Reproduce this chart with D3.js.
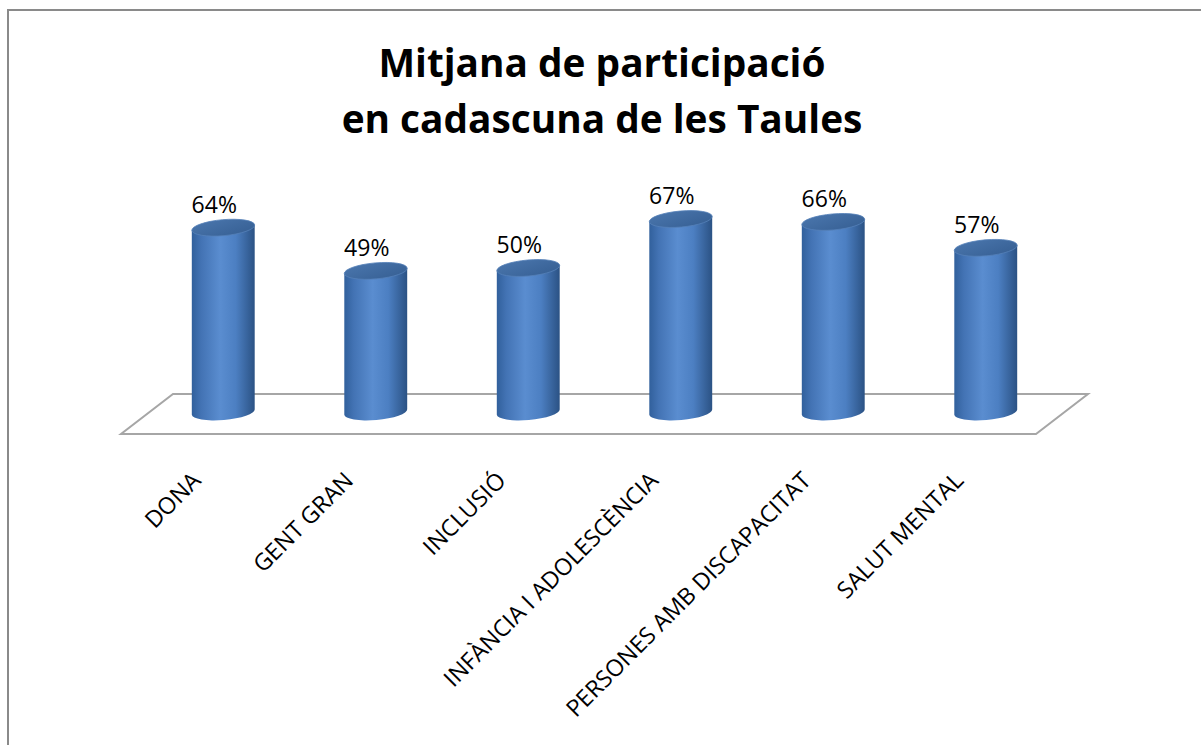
<!DOCTYPE html>
<html>
<head>
<meta charset="utf-8">
<script src="https://cdn.jsdelivr.net/npm/d3@7"></script>
<style>
  body { margin: 0; background: #fff; }
  svg { display: block; }
</style>
</head>
<body>
<script>
// dades del grafic
var categories = ["DONA", "GENT GRAN", "INCLUSIÓ", "INFÀNCIA I ADOLESCÈNCIA", "PERSONES AMB DISCAPACITAT", "SALUT MENTAL"];
var values = [0.64, 0.49, 0.50, 0.67, 0.66, 0.57];
var titleLines = ["Mitjana de participació", "en cadascuna de les Taules"];

var w = 1201;
var h = 745;
var font = "'Open Sans', 'DejaVu Sans', sans-serif";

var svg = d3.select("body").append("svg")
            .attr("width", w)
            .attr("height", h);

// gradients per als cilindres
var defs = svg.append("defs");
var sideGrad = defs.append("linearGradient").attr("id", "cyl").attr("x1", "0%").attr("x2", "100%");
sideGrad.append("stop").attr("offset", "0%").attr("stop-color", "#31609c");
sideGrad.append("stop").attr("offset", "15%").attr("stop-color", "#4373b4");
sideGrad.append("stop").attr("offset", "45%").attr("stop-color", "#5a8dd0");
sideGrad.append("stop").attr("offset", "70%").attr("stop-color", "#4c7fc2");
sideGrad.append("stop").attr("offset", "100%").attr("stop-color", "#2b5284");

var topGrad = defs.append("linearGradient").attr("id", "cyltop").attr("x1", "0%").attr("x2", "100%").attr("y1", "0%").attr("y2", "100%");
topGrad.append("stop").attr("offset", "0%").attr("stop-color", "#4a76ad");
topGrad.append("stop").attr("offset", "100%").attr("stop-color", "#365f93");

// marc
svg.append("rect")
  .attr("x", 8)
  .attr("y", 10)
  .attr("width", w + 10)
  .attr("height", h + 10)
  .attr("fill", "#fff")
  .attr("stroke", "#8a8a8a")
  .attr("stroke-width", 2);

// escales
var x = d3.scaleBand().domain(categories).range([147, 1062]);
var y = d3.scaleLinear().domain([0, 1]).range([412, 124]);

var rx = x.step() * 0.207;
var ry = 8;
var tilt = -5; // graus
var ct = Math.cos(tilt * Math.PI / 180), st = Math.sin(tilt * Math.PI / 180);

function cx(d) { return x(d) + x.bandwidth() / 2; }

// terra (pla 3D)
var depthX = 26, depthY = 20;
var floorY = y(0) + 2;
var floorPts = [
  [x.range()[0] + depthX, floorY - depthY],
  [x.range()[1] + depthX, floorY - depthY],
  [x.range()[1] - depthX, floorY + depthY],
  [x.range()[0] - depthX, floorY + depthY]
];
svg.append("polygon")
  .attr("points", floorPts.map(function(p) { return p.join(","); }).join(" "))
  .attr("fill", "#fff")
  .attr("stroke", "#a6a6a6")
  .attr("stroke-width", 2);

// cilindres
var bars = svg.selectAll("g.bar")
  .data(values)
  .enter()
  .append("g")
  .attr("class", "bar");

bars.append("path")
  .attr("d", function(d, i) {
    var c = cx(categories[i]);
    var yt = y(d), yb = y(0);
    var lt = [c - rx * ct, yt - rx * st], rt = [c + rx * ct, yt + rx * st];
    var lb = [c - rx * ct, yb - rx * st], rb = [c + rx * ct, yb + rx * st];
    return "M" + lt + "L" + lb + "A" + rx + "," + ry + " " + tilt + " 0 0 " + rb + "L" + rt + "Z";
  })
  .attr("fill", "url(#cyl)");

bars.append("ellipse")
  .attr("cx", 0)
  .attr("cy", 0)
  .attr("rx", rx)
  .attr("ry", ry)
  .attr("transform", function(d, i) { return "translate(" + cx(categories[i]) + "," + y(d) + ") rotate(" + tilt + ")"; })
  .attr("fill", "url(#cyltop)")
  .attr("stroke", "#5580b8")
  .attr("stroke-width", 0.8);

// etiquetes de valor
svg.selectAll("text.val")
  .data(values)
  .enter()
  .append("text")
  .attr("class", "val")
  .text(function(d) { return Math.round(d * 100) + "%"; })
  .attr("x", function(d, i) { return cx(categories[i]) - 9; })
  .attr("y", function(d) { return y(d) - 15; })
  .attr("text-anchor", "middle")
  .attr("font-family", font)
  .attr("font-size", 23)
  .attr("fill", "#000");

// etiquetes de categoria (girades)
svg.selectAll("text.cat")
  .data(categories)
  .enter()
  .append("text")
  .attr("class", "cat")
  .text(function(d) { return d; })
  .attr("transform", function(d) { return "translate(" + (cx(d) - 21) + "," + 482 + ") rotate(-45)"; })
  .attr("text-anchor", "end")
  .attr("font-family", font)
  .attr("font-size", 23.3)
  .attr("fill", "#000");

// titol
svg.selectAll("text.title")
  .data(titleLines)
  .enter()
  .append("text")
  .attr("class", "title")
  .text(function(d) { return d; })
  .attr("x", 602)
  .attr("y", function(d, i) { return 77 + i * 56; })
  .attr("text-anchor", "middle")
  .attr("font-family", font)
  .attr("font-weight", "bold")
  .attr("font-size", 38.8)
  .attr("fill", "#000");
</script>
</body>
</html>
